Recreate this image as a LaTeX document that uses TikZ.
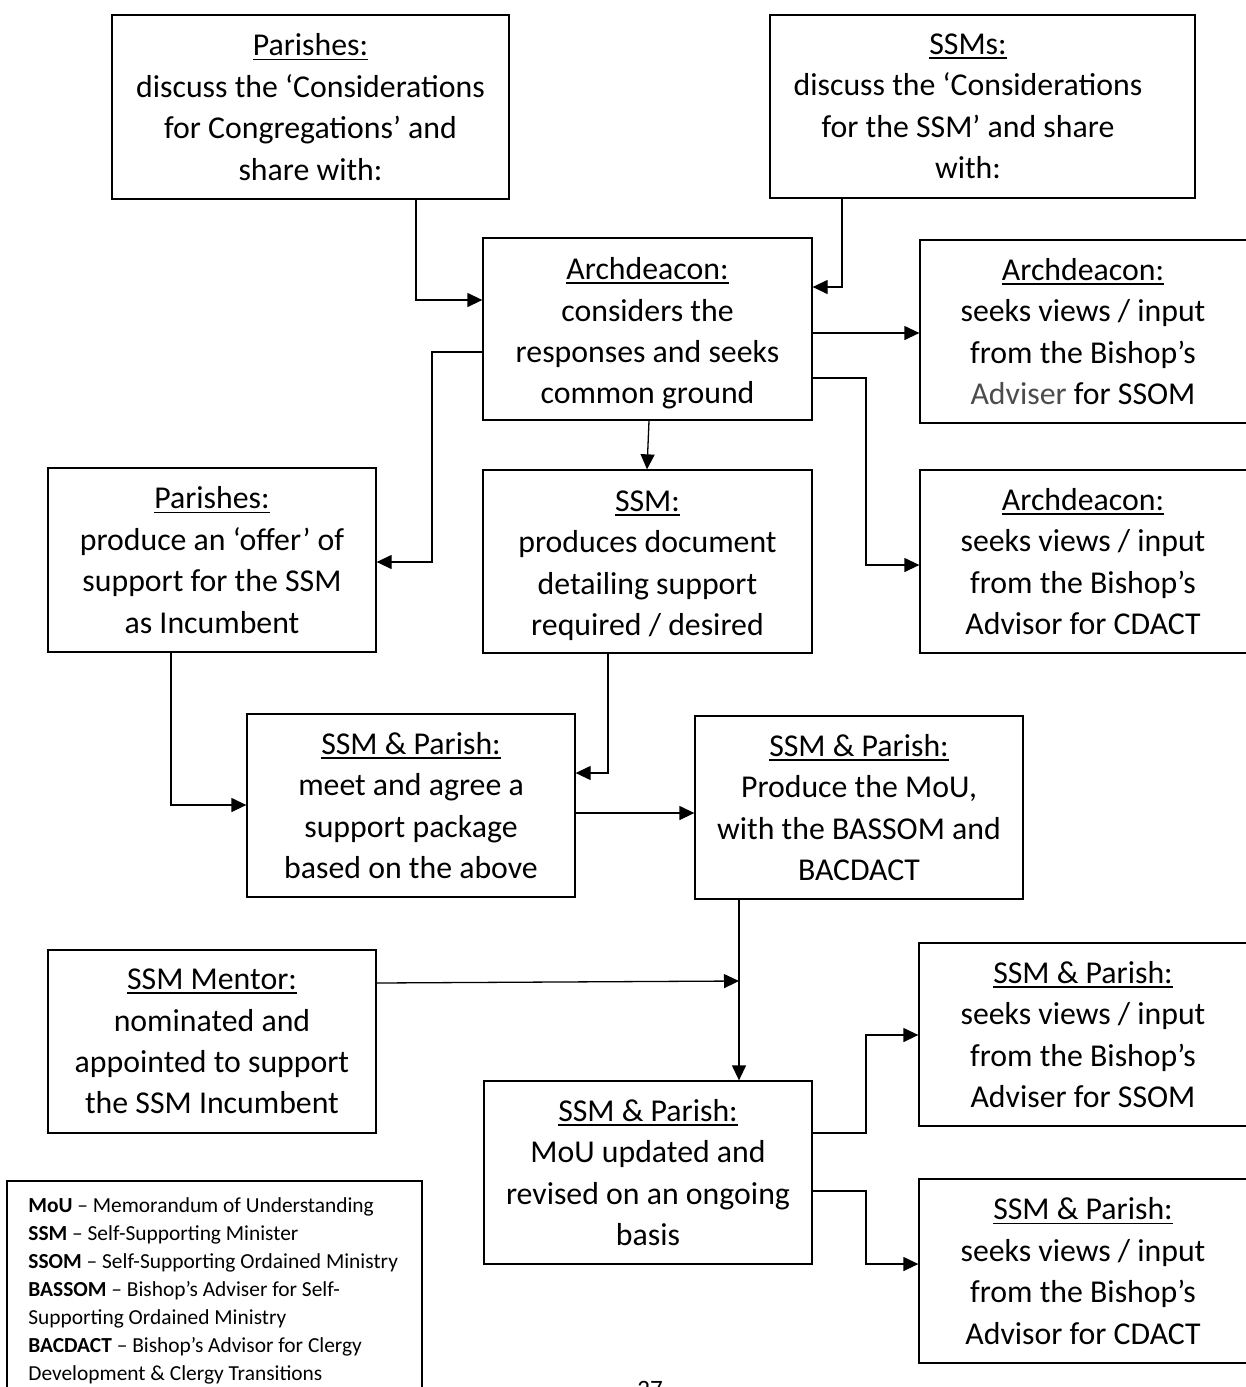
\documentclass[tikz,border=0pt]{standalone}
\usepackage{fontspec}
\setmainfont{Carlito}
\usetikzlibrary{arrows.meta,fit}
\newcommand\hd[1]{\setbox0\hbox{#1}\rlap{#1}\rule[-2.2pt]{\wd0}{0.8pt}}
\definecolor{advgray}{gray}{0.3}
\tikzset{
  box/.style={draw, line width=0.65pt, inner sep=0pt},
  txt/.style={align=center, inner sep=0pt, font=\fontsize{15.9pt}{20.7pt}\selectfont},
  arr/.style={line width=0.65pt, -{Triangle[length=7.5pt,width=7pt]}},
}
\begin{document}
\begin{tikzpicture}[x=0.5pt,y=-0.5pt]
\useasboundingbox (0,0) rectangle (1246,1387);
% boxes
\node[box, fit={(112,15)(509,199)}] (p1) {};
\node[box, fit={(770,15)(1195,198)}] (s1) {};
\node[box, fit={(483,238)(812,420)}] (a1) {};
\node[box, fit={(920,240)(1256,423)}] (ar1) {};
\node[box, fit={(920,470)(1256,653)}] (ar2) {};
\node[box, fit={(48,468)(376,652)}] (p2) {};
\node[box, fit={(483,470)(812,653)}] (ss) {};
\node[box, fit={(247,714)(575,897)}] (m1) {};
\node[box, fit={(695,716)(1023,899)}] (mo) {};
\node[box, fit={(48,950)(376,1133)}] (mt) {};
\node[box, fit={(484,1081)(812,1264)}] (mu) {};
\node[box, fit={(919,943)(1256,1126)}] (sr1) {};
\node[box, fit={(919,1179)(1256,1363)}] (sr2) {};
\node[box, fit={(7,1181)(422,1400)}] (leg) {};
% texts
\node[txt] (p1t) at (p1.center) {\hd{Parishes:}\\discuss the ‘Considerations\\for Congregations’ and\\share with:};
\node[txt] (s1t) at (968,0 |- s1.center) {\hd{SSMs:}\\discuss the ‘Considerations\\for the SSM’ and share\\with:};
\node[txt, yshift=-2.2pt] (a1t) at (a1.center) {\hd{Archdeacon:}\\considers the\\responses and seeks\\common ground};
\node[txt] (ar1t) at (1083,0 |- ar1.center) {\hd{Archdeacon:}\\seeks views / input\\from the Bishop’s\\{\color{advgray}Adviser} for SSOM};
\node[txt] (ar2t) at (1083,0 |- ar2.center) {\hd{Archdeacon:}\\seeks views / input\\from the Bishop’s\\Advisor for CDACT};
\node[txt] (p2t) at (p2.center) {\hd{Parishes:}\\produce an ‘offer’ of\\support for the SSM\\as Incumbent};
\node[txt, yshift=-2.2pt] (sst) at (ss.center) {\hd{SSM:}\\produces document\\detailing support\\required / desired};
\node[txt] (m1t) at (m1.center) {\hd{SSM \& Parish:}\\meet and agree a\\support package\\based on the above};
\node[txt] (mot) at (mo.center) {\hd{SSM \& Parish:}\\Produce the MoU,\\with the BASSOM and\\BACDACT};
\node[txt] (mtt) at (mt.center) {\hd{SSM Mentor:}\\nominated and\\appointed to support\\the SSM Incumbent};
\node[txt] (mut) at (mu.center) {\hd{SSM \& Parish:}\\MoU updated and\\revised on an ongoing\\basis};
\node[txt] (sr1t) at (1083,0 |- sr1.center) {\hd{SSM \& Parish:}\\seeks views / input\\from the Bishop’s\\Adviser for SSOM};
\node[txt] (sr2t) at (1083,0 |- sr2.center) {\hd{SSM \& Parish:}\\seeks views / input\\from the Bishop’s\\Advisor for CDACT};
\node[anchor=north west, align=left, inner sep=0pt, font=\fontsize{10.7pt}{14pt}\selectfont] (legt) at (28,1197)
 {\textbf{MoU} – Memorandum of Understanding\\
  \textbf{SSM} – Self-Supporting Minister\\
  \textbf{SSOM} – Self-Supporting Ordained Ministry\\
  \textbf{BASSOM} – Bishop’s Adviser for Self-\\
  Supporting Ordained Ministry\\
  \textbf{BACDACT} – Bishop’s Advisor for Clergy\\
  Development \& Clergy Transitions};
\node[anchor=north, inner sep=0pt, font=\fontsize{12.5pt}{14pt}\selectfont] (pg) at (650,1381) {27};
% connectors
\coordinate (join) at (739,981);
\draw[arr] (416,0 |- p1.south) |- (a1.west |- 0,300);
\draw[arr] (842,0 |- s1.south) |- (a1.east |- 0,287);
\draw[arr] (a1.east |- 0,333) -- (ar1.west |- 0,333);
\draw[arr] (a1.east |- 0,378) -| (866,565) -- (ar2.west |- 0,565);
\draw[arr] (a1.west |- 0,352) -| (432,562) -- (p2.east |- 0,562);
\draw[arr] (649,0 |- a1.south) -- (647,0 |- ss.north);
\draw[arr] (171,0 |- p2.south) |- (m1.west |- 0,805);
\draw[arr] (608,0 |- ss.south) |- (m1.east |- 0,773);
\draw[arr] (m1.east |- 0,813) -- (mo.west |- 0,813);
\draw[arr] (739,0 |- mo.south) -- (739,0 |- mu.north);
\draw[arr] (mt.east |- 0,983) -- (join);
\draw[arr] (mu.east |- 0,1133) -| (866,1035) -- (sr1.west |- 0,1035);
\draw[arr] (mu.east |- 0,1191) -| (866,1264) -- (sr2.west |- 0,1264);
\end{tikzpicture}
\end{document}
